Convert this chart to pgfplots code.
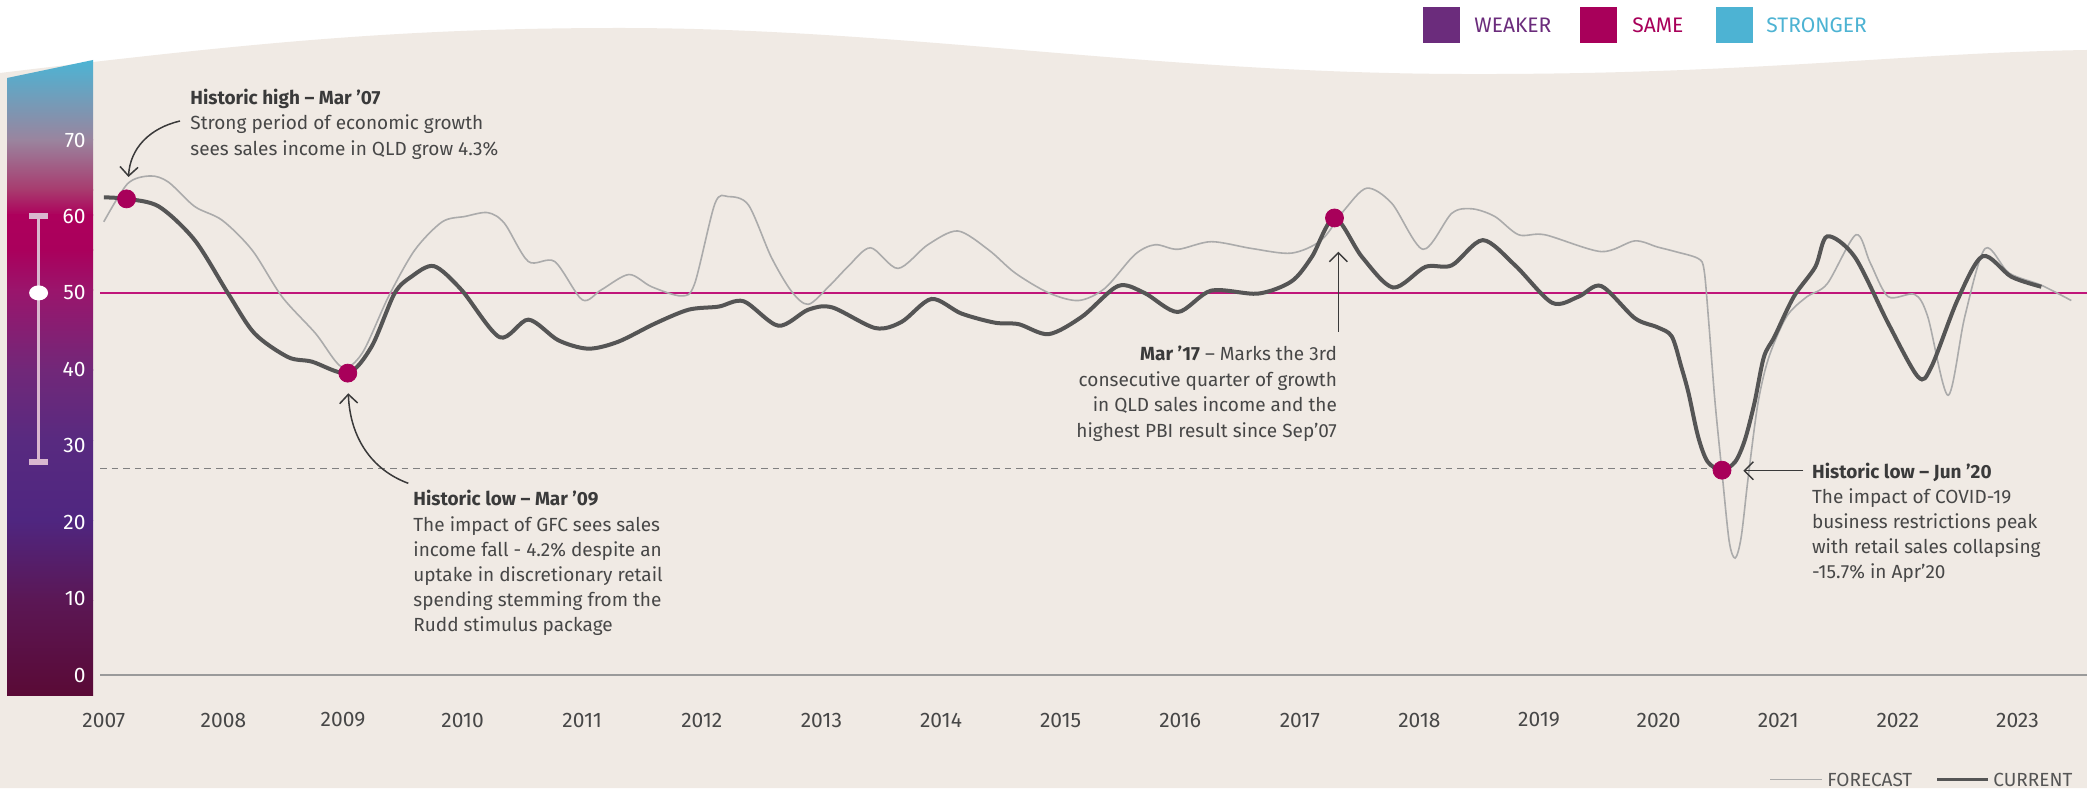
\documentclass[border=0pt]{standalone}
\usepackage{fontspec}
\setmainfont{Fira Sans}
\usepackage{pgfplots}
\pgfplotsset{compat=1.18}
\usetikzlibrary{arrows.meta}
\definecolor{beige}{HTML}{F0EAE4}
\definecolor{mag}{HTML}{A8005A}
\definecolor{redline}{HTML}{C0157A}
\definecolor{cur}{HTML}{555555}
\definecolor{fc}{HTML}{ABABAB}
\definecolor{txt}{HTML}{474747}
\definecolor{ttl}{HTML}{3A3A3A}
\definecolor{weak}{HTML}{6B2C7C}
\definecolor{strong}{HTML}{4DB3D3}
\definecolor{beam}{HTML}{D9B8CF}
\definecolor{cA}{HTML}{4CB4D4}
\definecolor{cB}{HTML}{9A849E}
\definecolor{cC}{HTML}{A83A6E}
\definecolor{cD}{HTML}{AD005C}
\definecolor{cE}{HTML}{AA005C}
\definecolor{cF}{HTML}{9A156C}
\definecolor{cG}{HTML}{712879}
\definecolor{cH}{HTML}{582A80}
\definecolor{cI}{HTML}{4F2680}
\definecolor{cJ}{HTML}{5B1755}
\definecolor{cK}{HTML}{5A0A36}
\newcommand{\bodyf}{\fontsize{9.5}{12}\selectfont}
\newcommand{\tickf}{\fontsize{10.5}{12}\selectfont}
\begin{document}
\begin{tikzpicture}[x=0.5pt,y=0.5pt]
\useasboundingbox (0,0) rectangle (2087,788);
\fill[white] (0,0) rectangle (2087,788);
\fill[beige] (0,0) -- (0,715) .. controls (250,745) and (400,760) .. (620,760)
  .. controls (900,760) and (1150,715) .. (1460,714)
  .. controls (1750,713) and (1900,735) .. (2087,738) -- (2087,0) -- cycle;
% colour bar
\shade[top color=cA, bottom color=cB] (7,647.5) -- (93,647.5) -- (93,728) -- (7,710) -- cycle;
\shade[top color=cB, bottom color=cC] (7,597.5) rectangle (93,648);
\shade[top color=cC, bottom color=cD] (7,572.5) rectangle (93,598);
\shade[top color=cD, bottom color=cE] (7,537.5) rectangle (93,573);
\shade[top color=cE, bottom color=cF] (7,497.5) rectangle (93,538);
\shade[top color=cF, bottom color=cG] (7,417.5) rectangle (93,498);
\shade[top color=cG, bottom color=cH] (7,347.5) rectangle (93,418);
\shade[top color=cH, bottom color=cI] (7,267.5) rectangle (93,348);
\shade[top color=cI, bottom color=cJ] (7,187.5) rectangle (93,268);
\shade[top color=cJ, bottom color=cK] (7,93) rectangle (93,188);
\draw[beam, line width=1.2pt] (38.6,571.6) -- (38.6,326.2);
\fill[beam] (29,569) rectangle (48,574.5);
\fill[beam] (29,323.5) rectangle (48,329);
\fill[white] (38.6,495.1) ellipse [x radius=9.5, y radius=7.5];
\begin{axis}[
  at={(50pt,56.5pt)}, anchor=south west,
  scale only axis, width=993.5pt, height=286.6pt,
  xmin=2006.9682, xmax=2023.5819, ymin=0, ymax=75,
  clip=false,
  axis line style={draw=none}, major tick length=0pt,
  xtick={2007,2008,2009,2010,2011,2012,2013,2014,2015,2016,2017,2018,2019,2020,2021,2022,2023},
  xticklabels={2007,2008,2009,2010,2011,2012,2013,2014,2015,2016,2017,2018,2019,2020,2021,2022,2023},
  xticklabel style={font=\tickf, text=txt, anchor=center, yshift=-22.5pt},
  ytick={0,10,20,30,40,50,60,70},
  yticklabels={0,10,20,30,40,50,60,70},
  yticklabel style={font=\tickf, text=white, anchor=east, inner sep=0pt, xshift=-7pt},
]
\addplot[color=fc!90!black, line width=0.6pt] coordinates {(2006.9682,0) (2023.5819,0)};
\addplot[color=gray, line width=0.6pt, dash pattern=on 3.3pt off 2.5pt] coordinates {(2006.9682,27) (2020.53,27)};
\addplot[color=redline, line width=0.8pt] coordinates {(2006.9682,50) (2023.5819,50)};
\addplot[color=fc, line width=0.8pt, smooth] coordinates {
(2007.00,59.3) (2007.20,64.3) (2007.39,65.3) (2007.54,64.5) (2007.76,61.3) (2007.99,59.5) (2008.24,55.6) (2008.49,49.5) (2008.77,44.7) (2008.99,40.3) (2009.16,42.1) (2009.38,49.5) (2009.60,55.6) (2009.83,59.3) (2010.02,60.0) (2010.21,60.5) (2010.35,59.1) (2010.55,54.1) (2010.77,54.1) (2011.00,49.1) (2011.16,50.4) (2011.39,52.4) (2011.58,50.8) (2011.83,49.6) (2011.94,51.2) (2012.11,61.7) (2012.22,62.6) (2012.39,61.5) (2012.58,54.7) (2012.75,50.2) (2012.89,48.5) (2013.06,50.8) (2013.22,53.4) (2013.41,55.9) (2013.64,53.2) (2013.89,56.3) (2014.14,58.1) (2014.40,55.6) (2014.62,52.6) (2014.90,50.0) (2015.15,49.0) (2015.37,50.6) (2015.62,55.0) (2015.79,56.3) (2015.98,55.7) (2016.26,56.7) (2016.60,55.8) (2016.93,55.2) (2017.18,56.9) (2017.37,60.8) (2017.56,63.7) (2017.77,61.7) (2018.03,55.7) (2018.27,60.4) (2018.44,61.0) (2018.63,60.0) (2018.83,57.6) (2019.05,57.6) (2019.52,55.4) (2019.80,56.8) (2019.99,56.0) (2020.14,55.4) (2020.33,54.5) (2020.38,53.0) (2020.42,46.0) (2020.47,36.0) (2020.53,26.5) (2020.59,17.5) (2020.64,15.3) (2020.69,18.0) (2020.75,26.0) (2020.83,35.5) (2020.92,41.5) (2021.07,46.9) (2021.24,49.5) (2021.41,51.2) (2021.65,57.6) (2021.77,53.9) (2021.92,49.5) (2022.14,49.8) (2022.25,46.9) (2022.42,36.6) (2022.56,46.9) (2022.73,55.8) (2022.93,52.6) (2023.20,51.0) (2023.45,49.0)};
\addplot[color=cur, line width=2pt, smooth] coordinates {
(2007.00,62.5) (2007.19,62.3) (2007.46,61.3) (2007.76,56.9) (2008.04,49.9) (2008.26,44.7) (2008.54,41.6) (2008.74,41.0) (2009.04,39.5) (2009.24,43.0) (2009.43,49.9) (2009.57,52.1) (2009.76,53.5) (2009.99,50.4) (2010.31,44.2) (2010.55,46.5) (2010.80,43.8) (2011.05,42.7) (2011.30,43.6) (2011.61,46.0) (2011.89,47.8) (2012.14,48.2) (2012.35,48.9) (2012.64,45.7) (2012.89,47.8) (2013.09,48.1) (2013.45,45.4) (2013.67,46.2) (2013.92,49.2) (2014.17,47.3) (2014.45,46.1) (2014.65,45.9) (2014.90,44.6) (2015.18,46.9) (2015.48,50.9) (2015.70,50.0) (2015.98,47.5) (2016.26,50.3) (2016.65,49.9) (2016.93,51.5) (2017.10,54.7) (2017.29,59.8) (2017.52,54.7) (2017.78,50.7) (2018.05,53.4) (2018.27,53.6) (2018.53,56.9) (2018.80,53.6) (2019.11,48.7) (2019.33,49.5) (2019.52,50.9) (2019.80,46.7) (2019.99,45.5) (2020.11,44.3) (2020.19,40.3) (2020.25,36.9) (2020.33,31.2) (2020.41,27.9) (2020.53,26.8) (2020.64,27.9) (2020.72,30.7) (2020.80,35.5) (2020.88,41.6) (2020.97,44.3) (2021.13,49.5) (2021.31,53.4) (2021.41,57.4) (2021.64,54.7) (2021.92,46.0) (2022.17,39.0) (2022.28,40.3) (2022.50,49.1) (2022.71,54.8) (2022.95,52.1) (2023.20,50.8)};
\addplot[only marks, mark=*, mark size=4.5pt, mark options={draw=mag, fill=mag}] coordinates {(2007.19,62.3) (2009.04,39.5) (2017.29,59.8) (2020.53,26.8)};
\end{axis}
% top legend
\fill[weak] (1423,745) rectangle (1460,781);
\node[anchor=west, inner sep=0pt, text=weak, font=\tickf] at (1474,763) {WEAKER};
\fill[mag] (1580,745) rectangle (1617,781);
\node[anchor=west, inner sep=0pt, text=mag, font=\tickf] at (1632,763) {SAME};
\fill[strong] (1716,745) rectangle (1753,781);
\node[anchor=west, inner sep=0pt, text=strong, font=\tickf] at (1766,763) {STRONGER};
% bottom legend
\draw[fc, line width=0.7pt] (1770,8.7) -- (1822,8.7);
\node[anchor=base west, inner sep=0pt, text=cur, font=\bodyf] at (1827,1.5) {FORECAST};
\draw[cur, line width=1.8pt] (1937,8.7) -- (1988,8.7);
\node[anchor=base west, inner sep=0pt, text=cur, font=\bodyf] at (1993,1.5) {CURRENT};
% annotations
\begin{scope}[every node/.style={inner sep=0pt, font=\bodyf, text=txt}]
\node[anchor=base west] at (190,683.7) {\textcolor{ttl}{\bfseries Historic high – Mar ’07}};
\node[anchor=base west] at (190,658) {Strong period of economic growth};
\node[anchor=base west] at (190,632.5) {sees sales income in QLD grow 4.3\%};
\node[anchor=base west] at (413,283) {\textcolor{ttl}{\bfseries Historic low – Mar ’09}};
\node[anchor=base west] at (413,256.3) {The impact of GFC sees sales};
\node[anchor=base west] at (413,231.3) {income fall - 4.2\% despite an};
\node[anchor=base west] at (413,206.3) {uptake in discretionary retail};
\node[anchor=base west] at (413,181.3) {spending stemming from the};
\node[anchor=base west] at (413,156.3) {Rudd stimulus package};
\node[anchor=base east] at (1337.3,427.3) {\textcolor{ttl}{\bfseries Mar ’17} – Marks the 3rd};
\node[anchor=base east] at (1337.3,401.3) {consecutive quarter of growth};
\node[anchor=base east] at (1337.3,376.3) {in QLD sales income and the};
\node[anchor=base east] at (1337.3,350.7) {highest PBI result since Sep’07};
\node[anchor=base west] at (1811.7,309.7) {\textcolor{ttl}{\bfseries Historic low – Jun ’20}};
\node[anchor=base west] at (1811.7,284.7) {The impact of COVID-19};
\node[anchor=base west] at (1811.7,259.7) {business restrictions peak};
\node[anchor=base west] at (1811.7,234.7) {with retail sales collapsing};
\node[anchor=base west] at (1811.7,209.7) {-15.7\% in Apr’20};
\end{scope}
\begin{scope}[ttl, line width=0.75pt, -{Straight Barb[length=4.5pt, width=9pt]}]
\draw (180,667) .. controls (150,660) and (130,640) .. (128.5,611);
\draw (408.3,304.7) .. controls (372,318) and (350,350) .. (348.3,394.7);
\draw (1338.3,456.3) -- (1338.3,536.3);
\draw (1803.3,317.3) -- (1743.3,317.3);
\end{scope}
\end{tikzpicture}
\end{document}
